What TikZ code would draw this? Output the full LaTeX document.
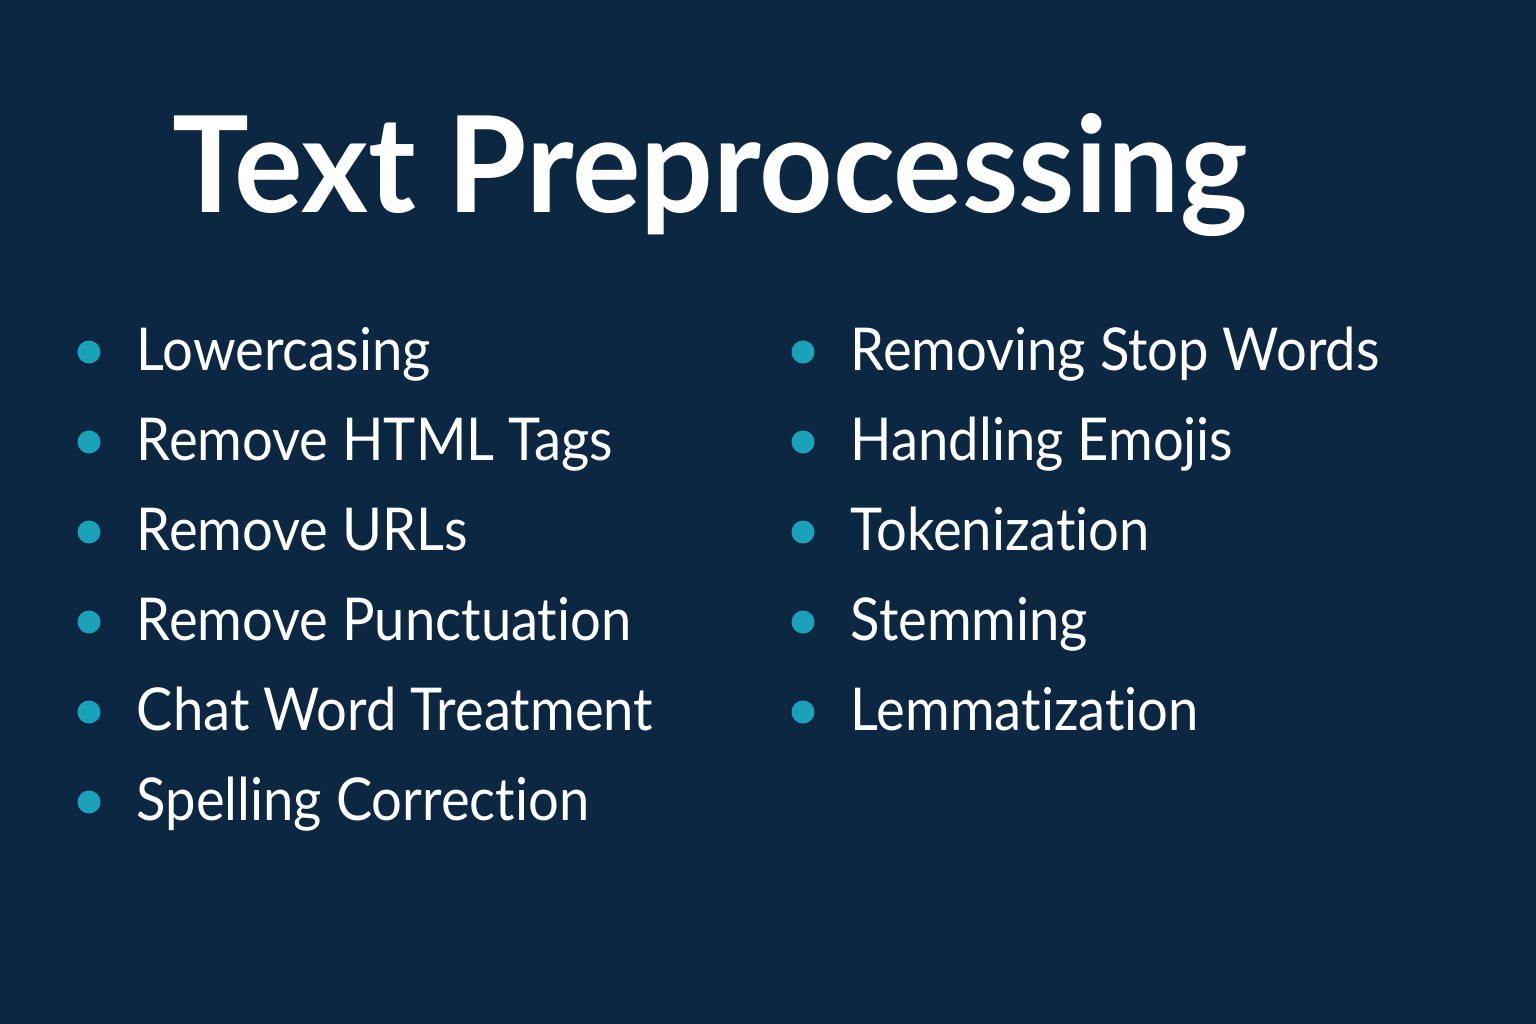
\documentclass[tikz,border=0pt]{standalone}
\usepackage{fontspec}
\setmainfont{Lato}[Ligatures={NoCommon}]
\newfontfamily\itemfont{Lato}[Ligatures={NoCommon}, FakeStretch=0.92]
\newfontfamily\titlefont{Lato}[Ligatures={NoCommon}, FakeStretch=0.96]
\usetikzlibrary{positioning}
\definecolor{bgnavy}{HTML}{0B2742}
\definecolor{dotteal}{HTML}{1AA2B8}

\begin{document}
\begin{tikzpicture}[x=0.01cm,y=-0.01cm,
	dot/.style={circle, fill=dotteal, minimum size=0.23cm, inner sep=0pt},
	item/.style={anchor=base west, text=white, inner sep=0pt, font=\itemfont\fontsize{16.8}{20}\selectfont}]
	\fill[bgnavy] (0,0) rectangle (1536,1024);
	\useasboundingbox (0,0) rectangle (1536,1024);
	\node[anchor=base west, text=white, inner sep=0pt, font=\titlefont\fontsize{38}{44}\selectfont\bfseries] (title) at (172,212) {Text Preprocessing};
	% left column
	\foreach \t [count=\i] in {Lowercasing, Remove HTML Tags, Remove URLs, Remove Punctuation, Chat Word Treatment, Spelling Correction}{
	    \node[dot] (ld\i) at (89,352+90*\i-90) {};
	    \node[item] (l\i) at (136,370+90*\i-90) {\t};
	}
	% right column
	\foreach \t [count=\i] in {Removing Stop Words, Handling Emojis, Tokenization, Stemming, Lemmatization}{
	    \node[dot] (rd\i) at (803,352+90*\i-90) {};
	    \node[item] (r\i) at (850,370+90*\i-90) {\t};
	}
\end{tikzpicture}
\end{document}
